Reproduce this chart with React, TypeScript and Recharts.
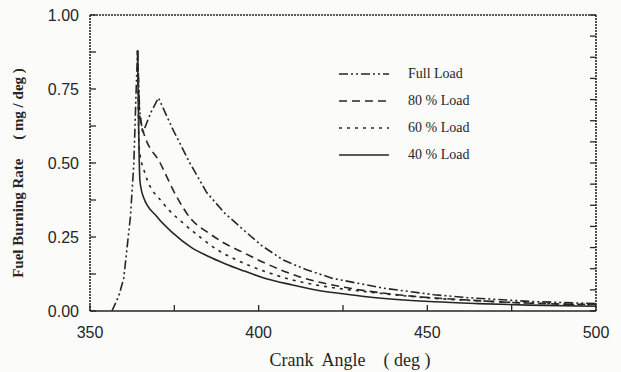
import React from 'react';
import { LineChart, Line, XAxis, YAxis, Legend } from 'recharts';

// crank angle (deg) / fuel burning rate (mg/deg)
const fullLoadAngle = [356.5, 358.5, 360, 362, 363, 363.6, 364.1, 364.7, 365.6, 368, 370.3, 374.7, 379.6, 384.6, 390, 395.5, 401, 407.3, 414, 422, 437, 452, 462, 481, 500];
const fullLoadRate = [0, 0.05, 0.11, 0.32, 0.5, 0.72, 0.88, 0.68, 0.6, 0.67, 0.72, 0.61, 0.5, 0.4, 0.33, 0.274, 0.22, 0.172, 0.14, 0.11, 0.077, 0.055, 0.045, 0.032, 0.025];

const load80Angle = [364.1, 364.8, 365.8, 370.8, 375.7, 380, 385, 390, 395, 402, 412, 427, 442, 462, 481, 500];
const load80Rate = [0.88, 0.65, 0.606, 0.5, 0.386, 0.31, 0.265, 0.228, 0.2, 0.161, 0.116, 0.077, 0.054, 0.037, 0.026, 0.022];

const load60Angle = [364.1, 364.6, 366.3, 371.7, 377.7, 382.6, 388, 393, 402, 410, 417, 432, 452, 472, 500];
const load60Rate = [0.88, 0.55, 0.465, 0.364, 0.296, 0.25, 0.205, 0.175, 0.133, 0.105, 0.088, 0.065, 0.043, 0.031, 0.02];

const load40Angle = [364.1, 364.8, 365.8, 369.8, 374.7, 380, 385, 390, 395, 402, 410, 417, 425, 432, 442, 452, 465, 480, 500];
const load40Rate = [0.88, 0.44, 0.386, 0.319, 0.262, 0.215, 0.185, 0.16, 0.138, 0.11, 0.088, 0.071, 0.058, 0.048, 0.038, 0.031, 0.025, 0.02, 0.016];

const seriesNames = ['Full Load', '80 % Load', '60 % Load', '40 % Load'];

const xTicks = [350, 375, 400, 425, 450, 475, 500];
const xTopTicks = [350, 368.75, 387.5, 406.25, 425, 443.75, 462.5, 481.25, 500];
const yTicks = [0, 0.125, 0.25, 0.375, 0.5, 0.625, 0.75, 0.875, 1];
const yRightTicks = Array.from({ length: 15 }, (_, k) => k / 14);

const toPoints = (angle: number[], rate: number[]) => angle.map((a, i) => ({ angle: a, rate: rate[i] }));

const seriesData = [
    toPoints(fullLoadAngle, fullLoadRate),
    toPoints(load80Angle, load80Rate),
    toPoints(load60Angle, load60Rate),
    toPoints(load40Angle, load40Rate),
];

const INK = '#262626';
const DASHES = ['9 3 2 3 2 3', '8 5', '3 5', undefined];

const W = 621;
const H = 372;

const BottomTick = ({ x, y, payload }: any) => {
    const v = payload.value;
    const labelled = v % 50 === 0;
    return (
        <g>
            <line x1={x} x2={x} y1={y} y2={y - 6} stroke={INK} strokeWidth={1.3} />
            {labelled && (
                <text x={x} y={y + 21} textAnchor="middle" dominantBaseline="central" fill={INK}
                    style={{ fontFamily: '"Liberation Sans", Arial, sans-serif', fontSize: 16 }}>
                    {v}
                </text>
            )}
        </g>
    );
};

const TopTick = ({ x, y }: any) => (
    <line x1={x} x2={x} y1={y} y2={y + 6} stroke={INK} strokeWidth={1.3} />
);

const LeftTick = ({ x, y, payload }: any) => {
    const v = payload.value;
    const labelled = Math.abs(v * 4 - Math.round(v * 4)) < 1e-6;
    return (
        <g>
            <line x1={x} x2={x + 6} y1={y} y2={y} stroke={INK} strokeWidth={1.3} />
            {labelled && (
                <text x={x - 11} y={y} textAnchor="end" dominantBaseline="central" fill={INK}
                    style={{ fontFamily: '"Liberation Sans", Arial, sans-serif', fontSize: 16 }}>
                    {v.toFixed(2)}
                </text>
            )}
        </g>
    );
};

const RightTick = ({ x, y }: any) => (
    <line x1={x} x2={x - 6} y1={y} y2={y} stroke={INK} strokeWidth={1.3} />
);

const LegendBox = () => (
    <div style={{ fontFamily: '"Liberation Serif", "Times New Roman", serif', fontSize: 14, color: INK }}>
        {seriesNames.map((name, i) => (
            <div key={name} style={{ display: 'flex', alignItems: 'center', height: 27 }}>
                <svg width={52} height={10} style={{ display: 'block' }}>
                    <line x1={1} x2={51} y1={5} y2={5} stroke={INK} strokeWidth={1.6} strokeDasharray={DASHES[i]} />
                </svg>
                <span style={{ marginLeft: 18 }}>{name}</span>
            </div>
        ))}
    </div>
);

export default function App() {
    return (
        <div style={{ position: 'absolute', left: 0, top: 0, width: W, height: H, background: '#fbfbf9' }}>
            <LineChart width={W} height={H} margin={{ top: 14, right: 24, bottom: 60, left: 40 }}>
                <XAxis xAxisId="b" type="number" dataKey="angle" domain={[350, 500]} ticks={xTicks}
                    interval={0} height={1} tickSize={0} tickMargin={0} tickLine={false}
                    axisLine={{ stroke: INK, strokeWidth: 1.6 }} tick={<BottomTick />} allowDataOverflow />
                <XAxis xAxisId="t" orientation="top" type="number" domain={[350, 500]} ticks={xTopTicks}
                    interval={0} height={1} tickSize={0} tickMargin={0} tickLine={false}
                    axisLine={{ stroke: INK, strokeWidth: 1.6, strokeDasharray: '2 1' }} tick={<TopTick />} allowDataOverflow />
                <YAxis yAxisId="l" type="number" domain={[0, 1]} ticks={yTicks} interval={0}
                    width={50} tickSize={0} tickMargin={0} tickLine={false}
                    axisLine={{ stroke: INK, strokeWidth: 1.6, strokeDasharray: '2 1' }} tick={<LeftTick />} allowDataOverflow />
                <YAxis yAxisId="r" orientation="right" type="number" domain={[0, 1]} ticks={yRightTicks} interval={0}
                    width={1} tickSize={0} tickMargin={0} tickLine={false}
                    axisLine={{ stroke: INK, strokeWidth: 1.6, strokeDasharray: '2 1' }} tick={<RightTick />} allowDataOverflow />
                <Legend layout="vertical" align="center" verticalAlign="middle" content={<LegendBox />}
                    wrapperStyle={{ position: 'absolute', left: 338, top: 60, width: 170, height: 110 }} />
                {seriesNames.map((name, i) => (
                    <Line key={name} xAxisId="b" yAxisId="l" name={name} data={seriesData[i]} dataKey="rate"
                        type={i === 0 ? 'linear' : 'monotone'} stroke={INK} strokeWidth={1.6} strokeDasharray={DASHES[i]}
                        dot={false} activeDot={false} isAnimationActive={false} />
                ))}
            </LineChart>
            {/* axis titles */}
            <div style={{
                position: 'absolute', left: 350, top: 360, transform: 'translate(-50%, -50%)', whiteSpace: 'pre',
                fontFamily: '"Liberation Serif", "Times New Roman", serif', fontSize: 18, color: INK,
            }}>Crank  Angle    ( deg )</div>
            <div style={{
                position: 'absolute', left: 18, top: 173, transform: 'translate(-50%, -50%) rotate(-90deg)', whiteSpace: 'pre',
                fontFamily: '"Liberation Serif", "Times New Roman", serif', fontSize: 15, fontWeight: 'bold', color: INK,
            }}>Fuel Burning Rate     ( mg / deg )</div>
        </div>
    );
}
